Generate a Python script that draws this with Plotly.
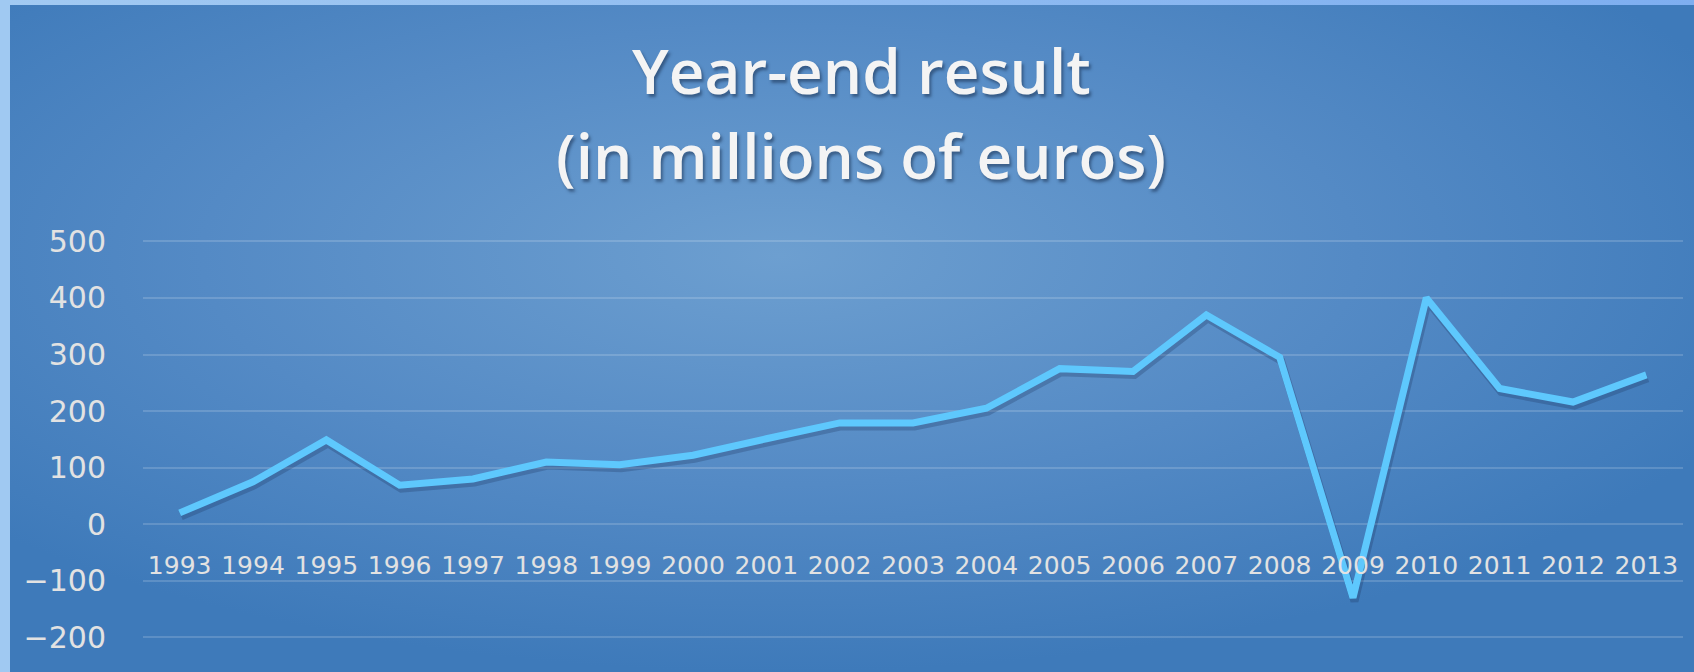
import base64
import plotly.graph_objects as go

# Year-end result per financial year, in millions of euros
years = list(range(1993, 2014))
result = [20, 75, 149, 69, 80, 110, 105, 122, 151, 179, 179, 205,
          275, 270, 370, 295, -130, 400, 240, 216, 264]
y_ticks = [-200, -100, 0, 100, 200, 300, 400, 500]

W, H = 1694, 672
M_L, M_R, M_T, M_B = 143, 11, 236, 29
Y_RANGE = [-210, 509.5]
X_RANGE = [years[0] - 0.5, years[-1] + 0.5]

plot_w = W - M_L - M_R
plot_h = H - M_T - M_B
px_per_y = plot_h / (Y_RANGE[1] - Y_RANGE[0])
px_per_x = plot_w / (X_RANGE[1] - X_RANGE[0])

# Slide-style backdrop: soft radial glow with light frame strips
bg_svg = f"""<svg xmlns='http://www.w3.org/2000/svg' width='{W}' height='{H}'>
<defs><radialGradient id='g' cx='0.46' cy='0.38' r='0.62'>
<stop offset='0' stop-color='#6d9fd0'/>
<stop offset='0.55' stop-color='#548ac5'/>
<stop offset='1' stop-color='#3e7aba'/>
</radialGradient>
<linearGradient id='t' x1='0' x2='1' y1='0' y2='0'>
<stop offset='0' stop-color='#a2caf2'/><stop offset='1' stop-color='#7eaef0'/>
</linearGradient></defs>
<rect width='{W}' height='{H}' fill='url(#g)'/>
<rect width='{W}' height='5' fill='url(#t)'/>
<rect width='10' height='{H}' fill='#a0c9f2'/>
</svg>"""
bg_uri = "data:image/svg+xml;base64," + base64.b64encode(bg_svg.encode()).decode()

fig = go.Figure()

# base subplot: carries the axes and grid (trace kept fully transparent)
fig.add_trace(go.Scatter(
    x=years, y=result, mode="lines", opacity=0,
    line=dict(width=0), hoverinfo="skip", showlegend=False,
))
# soft drop shadow, on a twin axis nudged a few pixels down and right
fig.add_trace(go.Scatter(
    x=years, y=result, mode="lines", xaxis="x2", yaxis="y2",
    line=dict(color="rgba(25,45,85,0.25)", width=8),
    hoverinfo="skip", showlegend=False,
))
# the result line itself, on an overlay drawn above the shadow
fig.add_trace(go.Scatter(
    x=years, y=result, mode="lines", xaxis="x3", yaxis="y3",
    line=dict(color="#5ec8fd", width=7),
    showlegend=False,
))

zero_pos = (0 - Y_RANGE[0]) / (Y_RANGE[1] - Y_RANGE[0])
tick_font = dict(family="DejaVu Sans", color="#e2e2e2")
title_font = dict(family="Open Sans", size=62, weight=600, color="#f4f4f4",
                  shadow="2px 3px 3px rgba(20,40,70,0.5)")

fig.update_layout(
    width=W, height=H,
    margin=dict(l=M_L, r=M_R, t=M_T, b=M_B),
    paper_bgcolor="#4a82c0",
    plot_bgcolor="rgba(0,0,0,0)",
    images=[dict(
        source=bg_uri, xref="paper", yref="paper",
        x=-M_L / plot_w, y=1 + M_T / plot_h,
        sizex=W / plot_w, sizey=H / plot_h,
        sizing="stretch", xanchor="left", yanchor="top", layer="below",
    )],
    xaxis=dict(
        range=X_RANGE, anchor="free", position=zero_pos,
        tickvals=years, ticktext=[str(y) for y in years],
        showgrid=False, zeroline=False, showline=False, ticks="",
        tickfont=dict(size=25, **tick_font), ticklabelstandoff=24,
    ),
    yaxis=dict(
        range=Y_RANGE, tickvals=y_ticks,
        ticktext=[str(v).replace("-", "\u2212") for v in y_ticks],
        showgrid=True, gridcolor="rgba(255,255,255,0.16)", gridwidth=1.5,
        zeroline=False, showline=False, ticks="",
        tickfont=dict(size=30, **tick_font), ticklabelstandoff=36,
    ),
    xaxis2=dict(
        overlaying="x", visible=False,
        range=[X_RANGE[0] - 1.5 / px_per_x, X_RANGE[1] - 1.5 / px_per_x],
    ),
    yaxis2=dict(
        overlaying="y", visible=False,
        range=[Y_RANGE[0] + 3.5 / px_per_y, Y_RANGE[1] + 3.5 / px_per_y],
    ),
    xaxis3=dict(overlaying="x", visible=False, range=X_RANGE),
    yaxis3=dict(overlaying="y", visible=False, range=Y_RANGE),
    annotations=[
        dict(text="Year-end result", xref="paper", yref="paper",
             x=(861 - M_L) / plot_w, y=(H - M_B - 70) / plot_h,
             xanchor="center", yanchor="middle",
             showarrow=False, font=title_font),
        dict(text="(in millions of euros)", xref="paper", yref="paper",
             x=(861 - M_L) / plot_w, y=(H - M_B - 155) / plot_h,
             xanchor="center", yanchor="middle",
             showarrow=False, font=title_font),
    ],
)

fig.write_html("out.html")
